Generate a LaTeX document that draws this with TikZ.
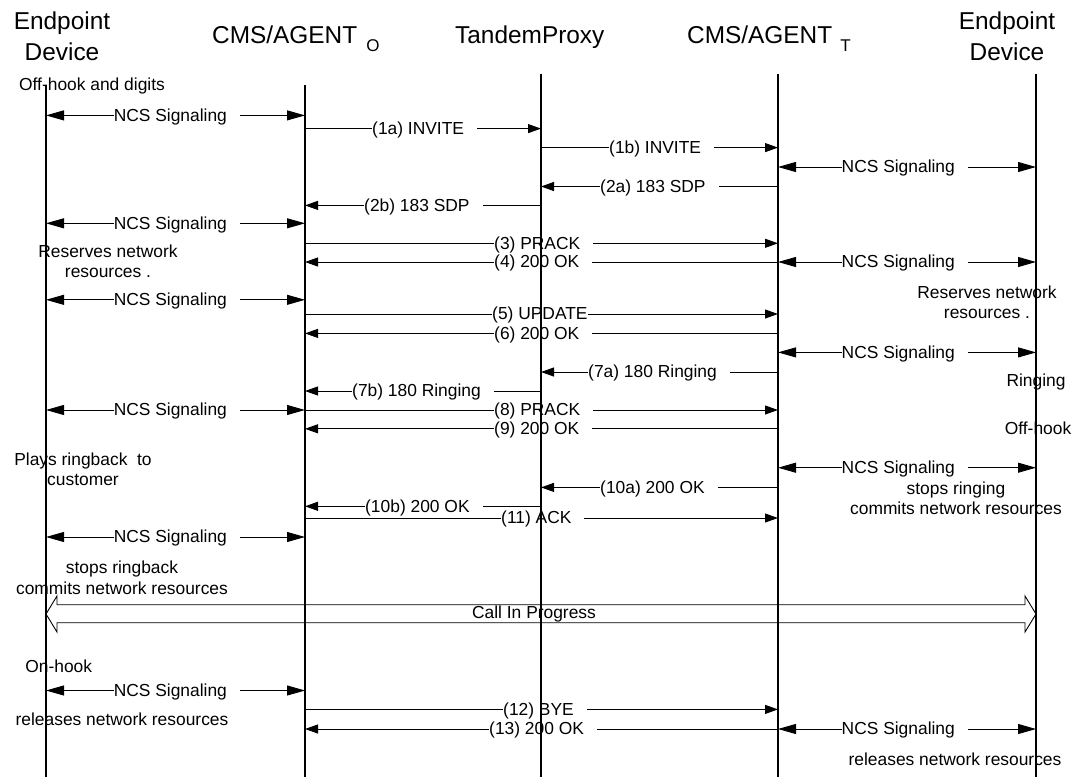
\documentclass[tikz,border=0pt]{standalone}
\usepackage{fontspec}
\setmainfont{Liberation Sans}
\usetikzlibrary{arrows.meta}
\newcommand\gp{\hspace*{13pt}}
\newcommand\labfont{\fontsize{17.4}{20.3}\selectfont}
\newcommand\headfont{\fontsize{24.4}{31}\selectfont}
\newcommand\subfont{\fontsize{17}{17}\selectfont}
\begin{document}
\begin{tikzpicture}[x=1pt,y=-1pt,
  life/.style={line width=1.4pt},
  msg/.style={line width=0.9pt,-{Triangle[length=13pt,width=9pt]}},
  ncs/.style={line width=0.9pt,{Triangle[length=18pt,width=10pt]}-{Triangle[length=18pt,width=10pt]}},
  lbl/.style={anchor=west,fill=white,inner xsep=0pt,inner ysep=1pt,font=\labfont,text height=12pt,text depth=3.5pt,yshift=-1.5pt},
  note/.style={align=center,inner sep=0pt,font=\labfont},
  head/.style={font=\headfont,inner sep=0pt},
  band/.style={line width=0.9pt,fill=white}]
\useasboundingbox (0,0) rectangle (1075,777);
% lifeline anchors
\coordinate (E1) at (46,0);
\coordinate (O) at (305,0);
\coordinate (P) at (541,0);
\coordinate (T) at (778,0);
\coordinate (E2) at (1036,0);
\coordinate (E1top) at (46,85);
\coordinate (Otop) at (305,85);
\coordinate (Ptop) at (541,74);
\coordinate (Ttop) at (778,74);
\coordinate (E2top) at (1036,74);
\coordinate (E1bot) at (46,777);
\coordinate (Obot) at (305,777);
\coordinate (Pbot) at (541,777);
\coordinate (Tbot) at (778,777);
\coordinate (E2bot) at (1036,777);
% headers
\node[head,align=center] (hE1) at (62,36) {Endpoint\\Device};
\node[head,align=center] (hE2) at (1007,36) {Endpoint\\Device};
\node[head,anchor=base west] (hO) at (212,43) {CMS/AGENT\hspace{9pt}\raisebox{-8pt}{\subfont O}};
\node[head,anchor=base west] (hP) at (455,43) {TandemProxy};
\node[head,anchor=base west] (hT) at (687,43) {CMS/AGENT\hspace{8pt}\raisebox{-8pt}{\subfont T}};
% left NCS signaling
\foreach \yy/\nm in {115.4/a,223.3/b,299.8/c,410/d,537/e,690.5/f}{
  \draw[ncs] (E1 |- 0,\yy) -- (O |- 0,\yy);
  \node[lbl] (nl\nm) at (113.6,\yy) {NCS Signaling\gp};
}
% right NCS signaling
\foreach \yy/\nm in {167/a,262/b,352.4/c,467.7/d,729/e}{
  \draw[ncs] (T |- 0,\yy) -- (E2 |- 0,\yy);
  \node[lbl] (nr\nm) at (841.5,\yy) {NCS Signaling\gp};
}
% messages O <-> P
\draw[msg] (O |- 0,128.6) -- (P |- 0,128.6);
\node[lbl] (m1a) at (372,128.6) {(1a) INVITE\gp};
\draw[msg] (P |- 0,205.4) -- (O |- 0,205.4);
\node[lbl] (m2b) at (364,205.4) {(2b) 183 SDP\gp};
\draw[msg] (P |- 0,391) -- (O |- 0,391);
\node[lbl] (m7b) at (352,391) {(7b) 180 Ringing\gp};
\draw[msg] (P |- 0,506.3) -- (O |- 0,506.3);
\node[lbl] (m10b) at (365,506.3) {(10b) 200 OK\gp};
% messages P <-> T
\draw[msg] (P |- 0,147.6) -- (T |- 0,147.6);
\node[lbl] (m1b) at (609,147.6) {(1b) INVITE\gp};
\draw[msg] (T |- 0,186.5) -- (P |- 0,186.5);
\node[lbl] (m2a) at (600,186.5) {(2a) 183 SDP\gp};
\draw[msg] (T |- 0,372) -- (P |- 0,372);
\node[lbl] (m7a) at (588,372) {(7a) 180 Ringing\gp};
\draw[msg] (T |- 0,487.4) -- (P |- 0,487.4);
\node[lbl] (m10a) at (600,487.4) {(10a) 200 OK\gp};
% messages O <-> T
\draw[msg] (O |- 0,243.3) -- (T |- 0,243.3);
\node[lbl] (m3) at (494,243.3) {(3) PRACK\gp};
\draw[msg] (T |- 0,262) -- (O |- 0,262);
\node[lbl] (m4) at (494,262) {(4) 200 OK\gp};
\draw[msg] (O |- 0,314) -- (T |- 0,314);
\node[lbl] (m5) at (492,314) {(5) UPDATE};
\draw[msg] (T |- 0,333.4) -- (O |- 0,333.4);
\node[lbl] (m6) at (494,333.4) {(6) 200 OK\gp};
\draw[msg] (O |- 0,410) -- (T |- 0,410);
\node[lbl] (m8) at (494,410) {(8) PRACK\gp};
\draw[msg] (T |- 0,428.8) -- (O |- 0,428.8);
\node[lbl] (m9) at (494,428.8) {(9) 200 OK\gp};
\draw[msg] (O |- 0,518) -- (T |- 0,518);
\node[lbl] (m11) at (501,518) {(11) ACK\gp};
\draw[msg] (O |- 0,709.4) -- (T |- 0,709.4);
\node[lbl] (m12) at (503,709.4) {(12) BYE\gp};
\draw[msg] (T |- 0,729) -- (O |- 0,729);
\node[lbl] (m13) at (489,729) {(13) 200 OK\gp};
% call in progress band
\draw[band] (E1 |- 0,614) -- ++(11,-18) -- ++(0,8.7) -- ++(968,0) -- ++(0,-8.7)
  -- (E2 |- 0,614) -- ++(-11,18) -- ++(0,-9.3) -- ++(-968,0) -- ++(0,9.3) -- cycle;
\node[note] (cip) at (534,614) {Call In Progress};
% notes
\node[note] (n1) at (92,86) {Off-hook and digits};
\node[note] (n2) at (108,261.2) {Reserves network\\resources .};
\node[note] (n3) at (987,302.5) {Reserves network\\resources .};
\node[note] (n4) at (1036,382) {Ringing};
\node[note] (n5) at (1038,428) {Off-hook};
\node[note] (n6) at (83,469.3) {Plays ringback\ \ to\\customer};
\node[note] (n7) at (956,498.2) {stops ringing\\commits network resources};
\node[note] (n8) at (122,577.8) {stops ringback\\commits network resources};
\node[note] (n9) at (58.7,666.4) {On-hook};
\node[note] (n10) at (122,719.7) {releases network resources};
\node[note] (n11) at (955,759) {releases network resources};
% lifelines on top
\draw[life] (E1top) -- (E1bot);
\draw[life] (Otop) -- (Obot);
\draw[life] (Ptop) -- (Pbot);
\draw[life] (Ttop) -- (Tbot);
\draw[life] (E2top) -- (E2bot);
\end{tikzpicture}
\end{document}
